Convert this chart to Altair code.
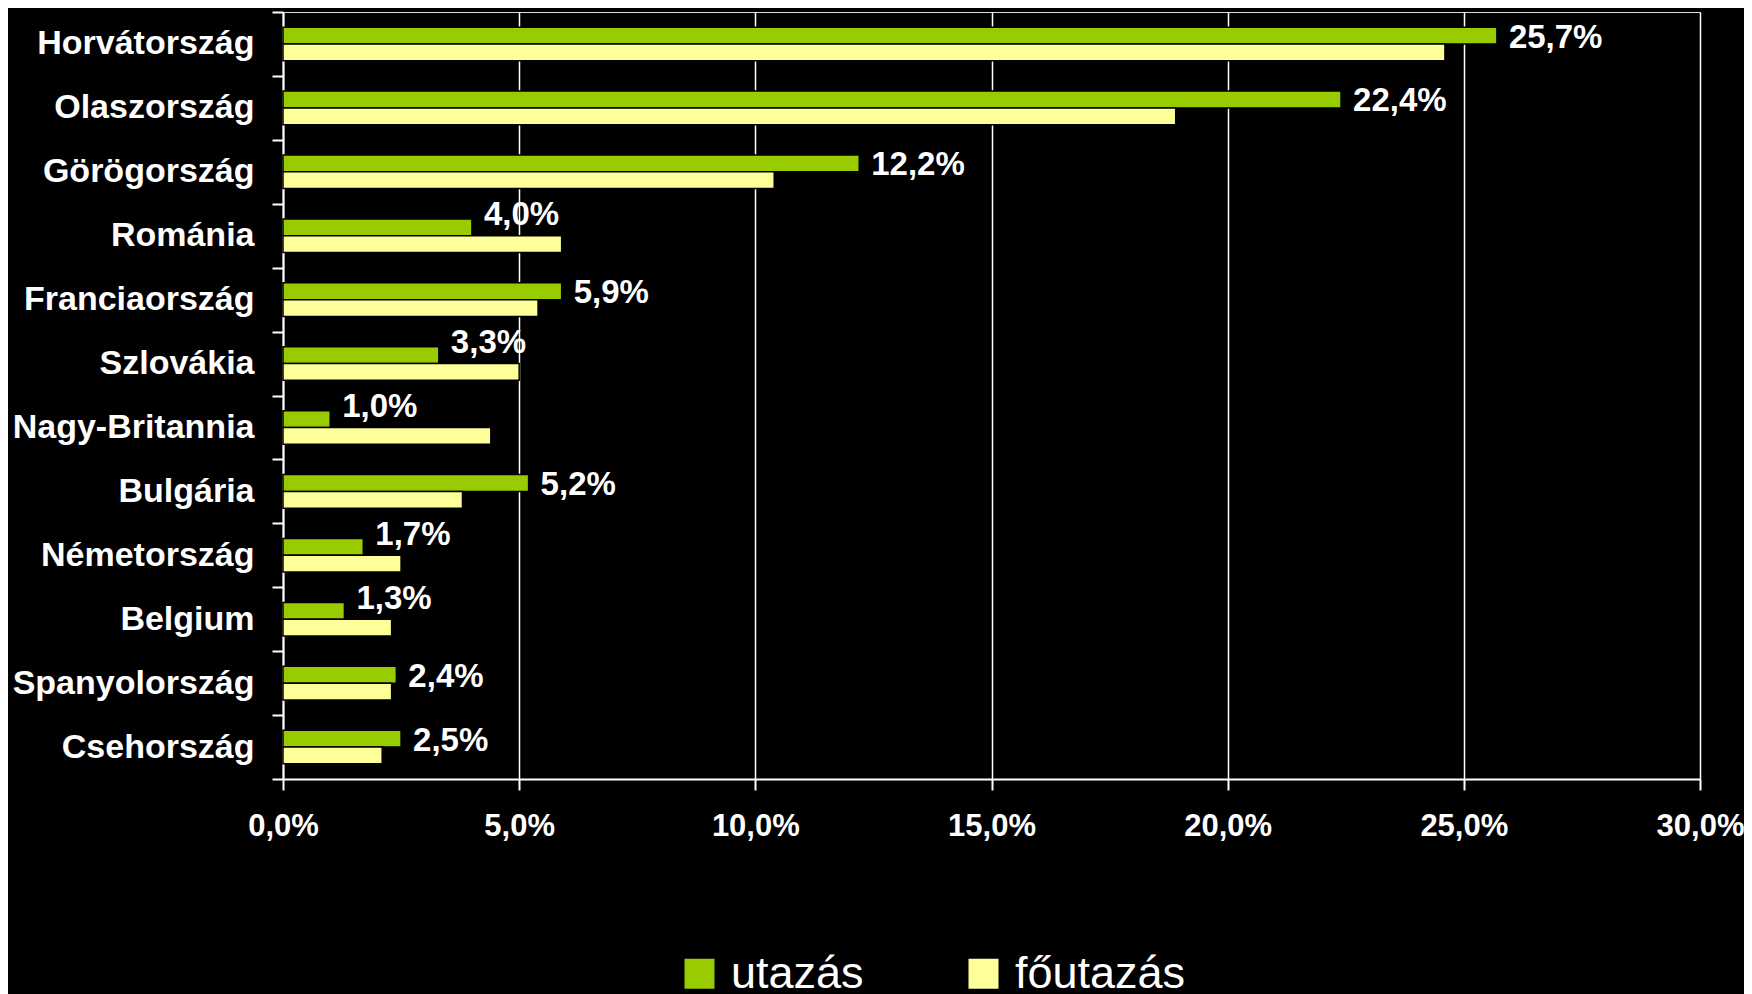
import altair as alt
import pandas as pd

countries = ["Horvátország", "Olaszország", "Görögország", "Románia", "Franciaország",
             "Szlovákia", "Nagy-Britannia", "Bulgária", "Németország", "Belgium",
             "Spanyolország", "Csehország"]
utazas = [25.7, 22.4, 12.2, 4.0, 5.9, 3.3, 1.0, 5.2, 1.7, 1.3, 2.4, 2.5]
foutazas = [24.6, 18.9, 10.4, 5.9, 5.4, 5.0, 4.4, 3.8, 2.5, 2.3, 2.3, 2.1]
series_names = ["utazás", "főutazás"]
series_colors = ["#99CC00", "#FFFF99"]
x_ticks = [0, 5, 10, 15, 20, 25, 30]

rows = []
for c, u, f in zip(countries, utazas, foutazas):
    rows.append({"orszag": c, "sorozat": "utazás", "ertek": u, "masik": f})
    rows.append({"orszag": c, "sorozat": "főutazás", "ertek": f, "masik": u})
df = pd.DataFrame(rows)

FONT = "Liberation Sans"
pct_expr = "replace(format(datum.value, '.1f'), '.', ',') + '%'"

y_enc = alt.Y(
    "orszag:N", sort=countries,
    scale=alt.Scale(domain=countries, paddingInner=0, paddingOuter=0),
    axis=alt.Axis(title=None, labelFontSize=34, labelFontWeight="bold", labelColor="white",
                  labelFont=FONT, labelLimit=0, tickColor="white", tickSize=11, tickWidth=2,
                  tickBand="extent", domainColor="white", domainWidth=2,
                  labelPadding=18, grid=False),
)
yoff = alt.YOffset("sorozat:N", scale=alt.Scale(domain=series_names, paddingInner=0, paddingOuter=0.9))
x_enc = alt.X(
    "ertek:Q",
    scale=alt.Scale(domain=[0, 30], nice=False, zero=True),
    axis=alt.Axis(title=None, values=x_ticks, labelExpr=pct_expr, labelFontSize=31,
                  labelFontWeight="bold", labelColor="white", labelFont=FONT,
                  labelFlush=False, labelOverlap=False,
                  tickColor="white", tickSize=11, tickWidth=2, domainColor="white",
                  domainWidth=2, grid=True, gridColor="white", gridWidth=1.5,
                  labelPadding=21),
)

bars = alt.Chart(df).mark_bar(stroke="black", strokeWidth=1.5).encode(
    y=y_enc, yOffset=yoff, x=x_enc,
    color=alt.Color(
        "sorozat:N",
        scale=alt.Scale(domain=series_names, range=series_colors),
        legend=alt.Legend(title=None, orient="none", legendX=394, legendY=939,
                          direction="horizontal", symbolType="square", symbolSize=900,
                          symbolStrokeWidth=0, labelFontSize=45, labelColor="white",
                          labelFont=FONT, labelLimit=0, columnPadding=97,
                          labelOffset=9, padding=0),
    ),
)

base_text = alt.Chart(df).transform_filter("datum.sorozat == 'utazás'").transform_calculate(
    cimke="replace(format(datum.ertek, '.1f'), '.', ',') + '%'"
)
text_enc = dict(
    y=alt.Y("orszag:N", sort=countries),
    yOffset=alt.YOffset("sorozat:N"),
    x=alt.X("ertek:Q"),
    text=alt.Text("cimke:N"),
)
text_normal = base_text.transform_filter("datum.masik <= datum.ertek").mark_text(
    align="left", baseline="middle", dx=12, dy=2, fontSize=33, fontWeight="bold",
    color="white", font=FONT,
).encode(**text_enc)
text_raised = base_text.transform_filter("datum.masik > datum.ertek").mark_text(
    align="left", baseline="middle", dx=12, dy=-12, fontSize=33, fontWeight="bold",
    color="white", font=FONT,
).encode(**text_enc)

chart = alt.layer(bars, text_normal, text_raised).properties(
    width=1417, height=767,
    padding={"left": 275, "top": 4, "right": 44, "bottom": 215},
    autosize=alt.AutoSizeParams(type="none"),
    background="black",
).configure_view(stroke="white", strokeWidth=2).configure(font=FONT)

chart.save("out.html", embed_options={"renderer": "svg", "actions": False})
